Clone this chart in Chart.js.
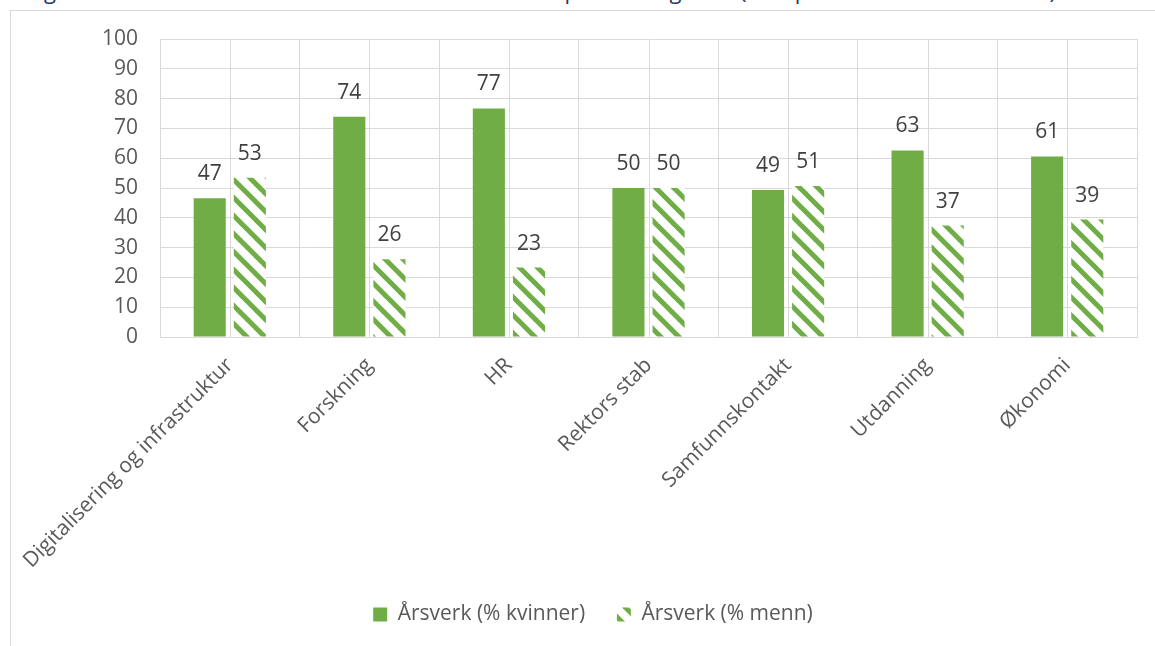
<!DOCTYPE html>
<html>
<head>
<meta charset="utf-8">
<script src="https://cdn.jsdelivr.net/npm/chart.js@4"></script>
<style>
  html, body { margin: 0; padding: 0; background: #fff; overflow: hidden; }
  body { width: 1155px; height: 646px; position: relative; font-family: "Open Sans", sans-serif; }
  #title { position: absolute; left: 27px; top: -21px; font-size: 22px; line-height: 22px; color: #1F3864; white-space: nowrap; }
  #frame { position: absolute; left: 10px; top: 10px; width: 1145px; height: 636px;
           border-left: 1px solid #d9d9d9; border-top: 1px solid #d9d9d9; }
  canvas { display: block; }
</style>
</head>
<body>
<div id="title">Figur 8: Andel kvinner i de sentrale enhetene fordelt på avdelingsnivå (tall i prosent av totale årsverk)</div>
<div id="frame"><canvas id="graphCanvas" width="1144" height="635"></canvas></div>
<script>
const categories = ["Digitalisering og infrastruktur", "Forskning", "HR", "Rektors stab", "Samfunnskontakt", "Utdanning", "Økonomi"];
const kvinner = [46.6, 73.9, 76.7, 50.0, 49.3, 62.6, 60.6];
const menn = [53.4, 26.1, 23.3, 50.0, 50.7, 37.4, 39.4];
const yTicks = [0, 10, 20, 30, 40, 50, 60, 70, 80, 90, 100];

const GREEN = "#70AD47";
const FONT = "'Open Sans', sans-serif";
const FS = 21;

// wide downward diagonal hatch
function hatch() {
  const s = 18;
  const c = document.createElement("canvas");
  c.width = s; c.height = s;
  const g = c.getContext("2d");
  g.fillStyle = "#fff";
  g.fillRect(0, 0, s, s);
  g.strokeStyle = GREEN;
  g.lineWidth = 5;
  for (let k = -1; k <= 1; k++) {
    g.beginPath();
    g.moveTo(k * s - 2, -2);
    g.lineTo(k * s + s + 2, s + 2);
    g.stroke();
  }
  return g.createPattern(c, "repeat");
}

// extra vertical gridlines at category centres
const midLines = {
  id: "midLines",
  beforeDatasetsDraw(chart) {
    const { ctx, chartArea, scales } = chart;
    ctx.save();
    ctx.strokeStyle = "#d9d9d9";
    ctx.lineWidth = 1;
    categories.forEach((c, i) => {
      const x = Math.round(scales.x.getPixelForTick(i)) + 0.5;
      ctx.beginPath();
      ctx.moveTo(x, chartArea.top);
      ctx.lineTo(x, chartArea.bottom);
      ctx.stroke();
    });
    ctx.restore();
  }
};

const valueLabels = {
  id: "valueLabels",
  afterDatasetsDraw(chart) {
    const ctx = chart.ctx;
    ctx.save();
    ctx.font = FS + "px " + FONT;
    ctx.fillStyle = "#404040";
    ctx.textAlign = "center";
    ctx.textBaseline = "alphabetic";
    chart.data.datasets.forEach((ds, i) => {
      chart.getDatasetMeta(i).data.forEach((bar, j) => {
        ctx.fillText(Math.round(ds.data[j]), bar.x, bar.y - 18);
      });
    });
    ctx.restore();
  }
};

const ctx = document.getElementById("graphCanvas").getContext("2d");

new Chart(ctx, {
  type: "bar",
  data: {
    labels: categories,
    datasets: [
      { label: "Årsverk (% kvinner)", data: kvinner, backgroundColor: GREEN },
      { label: "Årsverk (% menn)", data: menn, backgroundColor: hatch() }
    ]
  },
  options: {
    responsive: false,
    animation: false,
    datasets: { bar: { categoryPercentage: 0.575, barPercentage: 0.8 } },
    layout: { padding: { top: 28, right: 18, left: 38, bottom: 11 } },
    plugins: {
      tooltip: { enabled: false },
      legend: {
        position: "bottom",
        labels: {
          boxWidth: 14,
          boxHeight: 14,
          padding: 10,
          color: "#595959",
          font: { family: FONT, size: FS },
          generateLabels(chart) {
            const items = Chart.defaults.plugins.legend.labels.generateLabels(chart);
            items[0].text += "    ";
            return items;
          }
        }
      }
    },
    scales: {
      x: {
        grid: { color: "#d9d9d9", drawTicks: false, offset: true },
        border: { color: "#d9d9d9" },
        ticks: {
          autoSkip: false,
          minRotation: 45,
          maxRotation: 45,
          padding: 16,
          color: "#595959",
          font: { family: FONT, size: FS }
        },
        afterFit(s) { s.height = 257; s.paddingLeft = 0; s.paddingRight = 0; }
      },
      y: {
        min: 0,
        max: 100,
        afterBuildTicks(s) { s.ticks = yTicks.map(v => ({ value: v })); },
        grid: { color: "#d9d9d9", drawTicks: false },
        border: { display: false },
        ticks: {
          padding: 22,
          color: "#595959",
          font: { family: FONT, size: FS }
        },
        afterFit(s) { s.width = 111; s.paddingTop = 0; s.paddingBottom = 0; }
      }
    }
  },
  plugins: [midLines, valueLabels]
});
</script>
</body>
</html>
